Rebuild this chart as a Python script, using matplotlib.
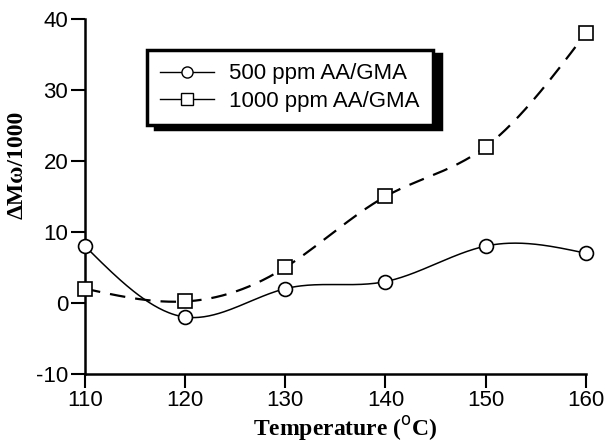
import numpy as np
import matplotlib
matplotlib.use("Agg")
import matplotlib.pyplot as plt

temps = [110, 120, 130, 140, 150, 160]
mw_500 = [8, -2, 2, 3, 8, 7]
mw_1000 = [2, 0.2, 5, 15, 22, 38]
labels = ["500 ppm AA/GMA", "1000 ppm AA/GMA"]
yticks = [-10, 0, 10, 20, 30, 40]
ytick_labels = ["-10", "0", "10", "20", "30", "40"]
xticks = [110, 120, 130, 140, 150, 160]


def natural_spline(x, y, n=300):
    x = np.asarray(x, float)
    y = np.asarray(y, float)
    k = len(x)
    h = np.diff(x)
    A = np.zeros((k, k))
    b = np.zeros(k)
    A[0, 0] = A[-1, -1] = 1
    for i in range(1, k - 1):
        A[i, i - 1] = h[i - 1]
        A[i, i] = 2 * (h[i - 1] + h[i])
        A[i, i + 1] = h[i]
        b[i] = 3 * ((y[i + 1] - y[i]) / h[i] - (y[i] - y[i - 1]) / h[i - 1])
    c = np.linalg.solve(A, b)
    xs = np.linspace(x[0], x[-1], n)
    ys = np.empty_like(xs)
    for j, xv in enumerate(xs):
        i = min(np.searchsorted(x, xv, side="right") - 1, k - 2)
        dx = xv - x[i]
        bi = (y[i + 1] - y[i]) / h[i] - h[i] * (2 * c[i] + c[i + 1]) / 3
        di = (c[i + 1] - c[i]) / (3 * h[i])
        ys[j] = y[i] + bi * dx + c[i] * dx ** 2 + di * dx ** 3
    return xs, ys


plt.rcParams["font.family"] = ["Liberation Sans", "DejaVu Sans"]
fig = plt.figure(figsize=(6.07, 4.45), dpi=100)
ax = fig.add_axes([0.140, 0.160, 0.825, 0.797])

xs, ys = natural_spline(temps, mw_500)
ax.plot(xs, ys, color="black", lw=1.1, ls="-", zorder=2)
ax.plot(temps, mw_500, ls="none", marker="o", ms=10, mfc="white", mec="black", mew=1.2, zorder=3,
        clip_on=False)
xs2, ys2 = natural_spline(temps, mw_1000)
ax.plot(xs2, ys2, color="black", lw=1.6, ls=(0, (7, 4.5)), zorder=2)
ax.plot(temps, mw_1000, ls="none", marker="s", ms=10, mfc="white", mec="black", mew=1.2, zorder=3,
        clip_on=False)

h1, = ax.plot([], [], color="black", lw=1.0, marker="o", ms=8, mfc="white", mec="black")
h2, = ax.plot([], [], color="black", lw=1.0, marker="s", ms=8, mfc="white", mec="black")
leg = ax.legend([h1, h2], labels, loc="upper left", bbox_to_anchor=(0.124, 0.913),
                fontsize=16, frameon=True, fancybox=False,
                shadow={"ox": 6, "oy": -3, "color": "black", "alpha": 1.0},
                handlelength=2.4, borderpad=0.6, labelspacing=0.3, handletextpad=0.7,
                borderaxespad=0)
leg.get_frame().set_edgecolor("black")
leg.get_frame().set_linewidth(2.5)
leg.get_frame().set_alpha(1.0)

ax.set_xlim(110, 160)
ax.set_ylim(-10, 40)
ax.set_xticks(xticks)
ax.set_yticks(yticks)
ax.set_yticklabels(ytick_labels)
ax.tick_params(labelsize=16, direction="out", length=10, width=1.5, pad=2)
for s in ["top", "right"]:
    ax.spines[s].set_visible(False)
for s in ["left", "bottom"]:
    ax.spines[s].set_linewidth(1.8)

ax.set_xlabel("Temperature ($^{\\mathrm{o}}$C)", family=["Liberation Serif", "DejaVu Serif"],
              fontweight="bold", fontsize=17)
ax.xaxis.set_label_coords(0.52, -0.112)
ax.set_ylabel("ΔMω/1000", family=["Liberation Serif", "DejaVu Serif"],
              fontweight="bold", fontsize=17)
ax.yaxis.set_label_coords(-0.115, 0.59)

fig.savefig("out.png", dpi=100)
